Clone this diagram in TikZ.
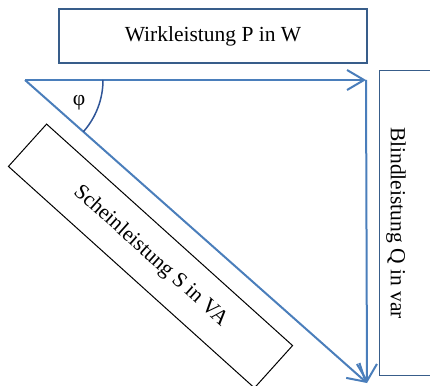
\documentclass[tikz,border=0pt]{standalone}
\usepackage{fontspec}
\setmainfont{Liberation Serif}
\usetikzlibrary{arrows.meta}
\definecolor{pfeilblau}{RGB}{74,126,187}
\definecolor{rahmenblau}{RGB}{56,93,138}
\definecolor{bogenblau}{RGB}{47,85,151}

\begin{document}
\begin{tikzpicture}[x=1pt,y=-1pt,
    font=\fontsize{21.5}{26}\selectfont,
    kasten/.style={draw=rahmenblau, line width=1.3pt, inner sep=0pt},
    zeiger/.style={draw=pfeilblau, line width=2pt, -{Straight Barb[length=17pt,width=20pt]}}]
  \useasboundingbox (0,0) rectangle (430,385);
  % Eckpunkte des Dreiecks
  \coordinate (ursprung) at (25,80);
  \coordinate (pende) at (366,80);
  \coordinate (qende) at (367,383);
  % Kaesten
  \node[kasten, minimum width=308pt, minimum height=54pt] (wirk) at (213,36) {Wirkleistung P in W};
  \node[kasten, minimum width=70pt, minimum height=305pt, anchor=north west] (blind) at (379,70) {};
  \node[rotate=-90] (blindtext) at (396,223) {Blindleistung Q in var};
  \node[draw, line width=1pt, rotate=-42, minimum width=331pt, minimum height=57pt] (schein) at (150.5,256) {Scheinleistung S in VA};
  % Zeiger
  \draw[zeiger] (ursprung) -- (pende);
  \draw[zeiger] (pende) -- (qende);
  \draw[zeiger] (ursprung) -- (qende);
  % Winkel
  \draw[bogenblau, line width=1.5pt] ([xshift=78pt]ursprung) arc[start angle=0, end angle=-41.5, radius=78pt];
  \node (phi) at (79,103) {φ};
\end{tikzpicture}
\end{document}
